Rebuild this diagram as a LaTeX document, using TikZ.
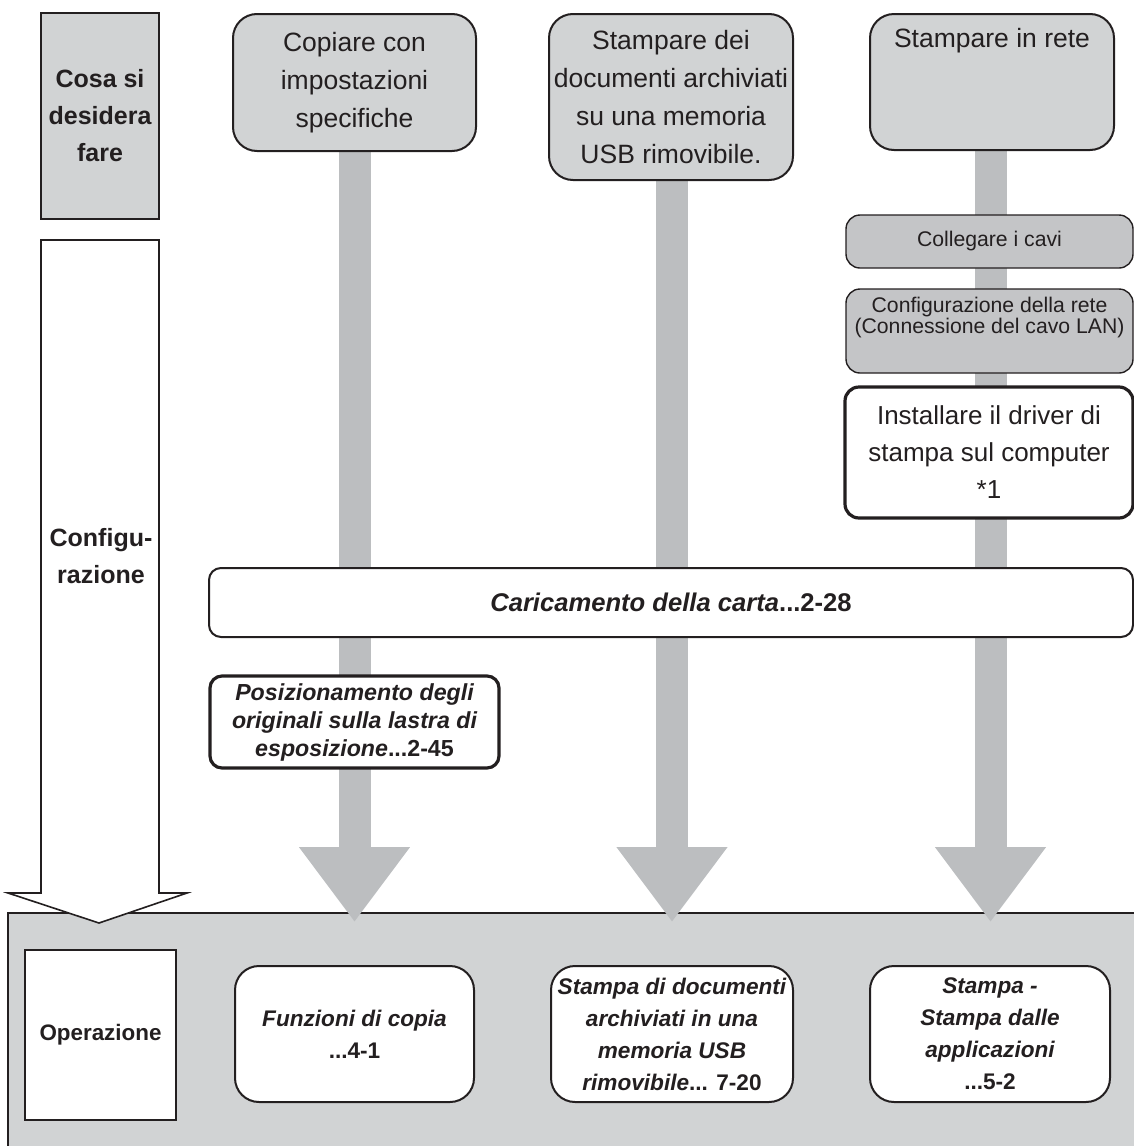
\documentclass[tikz,border=0pt]{standalone}
\usepackage{fontspec}
\setmainfont{Liberation Sans}
\usetikzlibrary{arrows.meta}
\definecolor{ink}{HTML}{231F20}
\definecolor{boxgray}{HTML}{D1D3D4}
\definecolor{stepgray}{HTML}{C4C5C7}
\definecolor{flowgray}{HTML}{BCBEC0}
\pgfdeclarelayer{panel}
\pgfdeclarelayer{flow}
\pgfsetlayers{panel,flow,main}
\tikzset{
  goalbox/.style={draw=ink, line width=1pt, fill=boxgray, rounded corners=12pt, align=center, text=ink, inner sep=0pt, font=\fontsize{13.25}{19}\selectfont},
  stepbox/.style={draw=ink, line width=0.7pt, fill=stepgray, rounded corners=7pt, align=center, text=ink, inner sep=0pt, minimum width=143.5pt, font=\fontsize{10.6}{10.8}\selectfont},
  refbox/.style={draw=ink, line width=1pt, fill=white, rounded corners=12pt, align=center, text=ink, inner sep=0pt, minimum height=68pt, font=\fontsize{11.3}{16}\selectfont\bfseries\itshape},
  headbox/.style={draw=ink, line width=1.1pt, align=center, text=ink, inner sep=0pt, font=\fontsize{12.5}{18.5}\selectfont\bfseries},
  flowline/.style={draw=flowgray, line width=16pt, -{Triangle[width=53pt,length=37.5pt]}}
}
\newcommand{\pagenum}[1]{\textup{#1}}
\begin{document}
\begin{tikzpicture}[x=0.5pt,y=-0.5pt]
\useasboundingbox (0,0) rectangle (1134,1146);
% what you want to do
\node[headbox, fill=boxgray, minimum width=59pt, minimum height=103pt] (want) at (100,116) {Cosa si\\desidera\\fare};
\node[goalbox, minimum width=121.5pt, minimum height=68.5pt] (copy) at (354.5,82.5) {Copiare con\\impostazioni\\specifiche};
\node[goalbox, minimum width=122pt, minimum height=83pt] (usb) at (671,97) {Stampare dei\\documenti archiviati\\su una memoria\\USB rimovibile.};
\node[goalbox, minimum width=122pt, minimum height=68pt] (net) at (992,82) {Stampare in rete\\\strut\\\strut};
% setup
\node[stepbox, minimum height=26.5pt] (cables) at (989.5,241.5) {Collegare i cavi};
\node[stepbox, minimum height=42pt] (lan) at (989.5,331) {Configurazione della rete\\(Connessione del cavo LAN)\\[1.5pt]\strut};
\node[draw=ink, line width=1.6pt, fill=white, rounded corners=7pt, align=center, text=ink, inner sep=0pt, minimum width=144pt, minimum height=65.5pt, font=\fontsize{13}{18.5}\selectfont] (driver) at (989,452.5) {Installare il driver di\\stampa sul computer\\*1};
\node[draw=ink, line width=1pt, fill=white, rounded corners=6pt, text=ink, inner sep=0pt, minimum width=462pt, minimum height=34.5pt, font=\fontsize{12.8}{15}\selectfont\bfseries\itshape] (paper) at (671,602.5) {Caricamento della carta\pagenum{...2-28}};
\node[draw=ink, line width=1.6pt, fill=white, rounded corners=6pt, align=center, text=ink, inner sep=0pt, minimum width=144.5pt, minimum height=46pt, font=\fontsize{11.6}{14}\selectfont\bfseries\itshape] (glass) at (354.5,722) {Posizionamento degli\\originali sulla lastra di\\esposizione\pagenum{...2-45}};
\node[text=ink, align=center, font=\fontsize{12.5}{18.5}\selectfont\bfseries] (setup) at (101,556.5) {Configu-\\razione};
% operation
\node[headbox, fill=white, line width=1.3pt, minimum width=75.5pt, minimum height=85pt, font=\fontsize{11.2}{14}\selectfont\bfseries] (oper) at (100.5,1035) {Operazione};
\node[refbox, minimum width=119.5pt] (fcopy) at (354.5,1034) {Funzioni di copia\\\pagenum{...4-1}};
\node[refbox, minimum width=121pt] (fusb) at (672,1034) {Stampa di documenti\\archiviati in una\\memoria USB\\rimovibile\pagenum{... 7-20}};
\node[refbox, minimum width=120pt] (fnet) at (990,1034) {Stampa -\\Stampa dalle\\applicazioni\\\pagenum{...5-2}};
\coordinate (copyend) at (354.5,922);
\coordinate (usbend) at (672,922);
\coordinate (netend) at (990.5,922);
\begin{pgfonlayer}{panel}
\fill[boxgray] (8,913) rectangle (1134,1146);
\draw[ink, line width=1.3pt] (1134,913) -- (8,913) -- (8,1146);
\end{pgfonlayer}
\begin{pgfonlayer}{flow}
\draw[flowline] (copyend |- copy.south) -- (copyend);
\draw[flowline] (usbend |- usb.south) -- (usbend);
\draw[flowline] (netend |- net.south) -- (netend);
\draw[ink, line width=0.8pt, fill=white] (41,240) -- (159,240) -- (159,893) -- (187,893) -- (99,923) -- (8,893) -- (41,893) -- cycle;
\end{pgfonlayer}
\end{tikzpicture}
\end{document}
